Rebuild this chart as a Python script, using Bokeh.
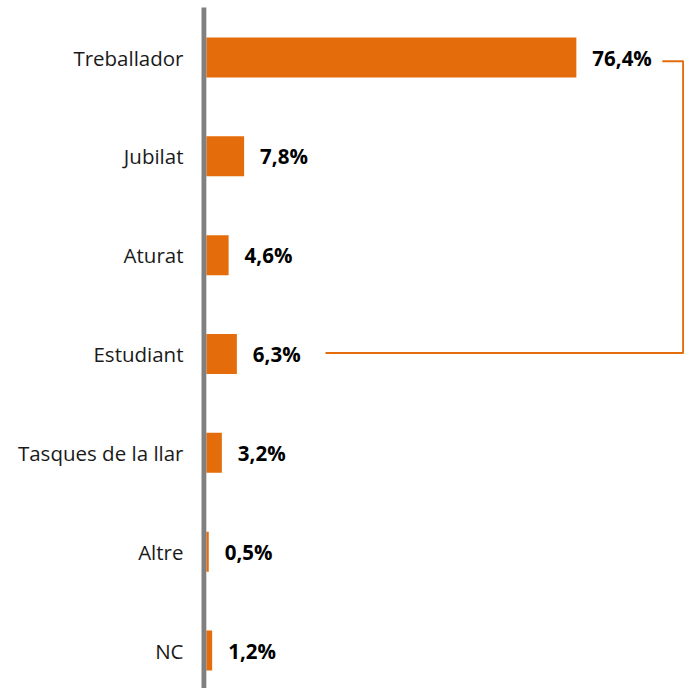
from bokeh.plotting import figure
from bokeh.models import Range1d, FixedTicker, ColumnDataSource
from bokeh.core.properties import value
from bokeh.embed import file_html
from bokeh.resources import INLINE

categories = ["Treballador", "Jubilat", "Aturat", "Estudiant", "Tasques de la llar", "Altre", "NC"]
percentages = [76.4, 7.8, 4.6, 6.3, 3.2, 0.5, 1.2]
value_labels = ["76,4%", "7,8%", "4,6%", "6,3%", "3,2%", "0,5%", "1,2%"]

n = len(categories)
ypos = [n - 1 - i for i in range(n)]

ORANGE = "#E46C0A"
GRAY = "#808080"
FONT = "Open Sans"

Y_TOP = 6.577
Y_BOT = -0.3845
X_START = -1.0
X_END = 98.73

src = ColumnDataSource(dict(y=ypos, v=percentages, lab=value_labels, cat=categories))

p = figure(width=684, height=688, output_backend="svg", toolbar_location=None,
           x_range=Range1d(X_START, X_END), y_range=Range1d(Y_BOT, Y_TOP),
           min_border_left=201, min_border_right=0, min_border_top=0, min_border_bottom=0)
p.outline_line_color = None
p.grid.visible = False
p.xaxis.visible = False
p.background_fill_color = "white"
p.border_fill_color = "white"

p.hbar(y="y", left=0, right="v", height=0.405, source=src, color=ORANGE, line_color=None)

p.text(x="v", y="y", text="lab", source=src, x_offset=16, text_baseline="middle",
       text_align="left", text_font=value(FONT), text_font_style="bold",
       text_font_size="20.5px", text_color="#000000")

# bracket connecting Treballador to Estudiant
top_i = categories.index("Treballador")
bot_i = categories.index("Estudiant")
x_top_start = percentages[top_i] + 17.75
x_bot_start = percentages[bot_i] + 18.3
x_right = 98.45
y_top = ypos[top_i] - 0.037
y_bot = ypos[bot_i] + 0.01
p.line([x_top_start, x_right, x_right, x_bot_start], [y_top, y_top, y_bot, y_bot],
       line_color=ORANGE, line_width=2)

# vertical gray axis line just left of zero
p.segment(x0=[-0.62], y0=[Y_BOT], x1=[-0.62], y1=[Y_TOP - 0.07], line_color=GRAY, line_width=6)

yax = p.yaxis[0]
yax.ticker = FixedTicker(ticks=ypos)
yax.major_label_overrides = {y: c for y, c in zip(ypos, categories)}
yax.axis_line_color = None
yax.major_tick_line_color = None
yax.minor_tick_line_color = None
yax.major_label_standoff = 12
yax.major_label_text_font = FONT
yax.major_label_text_font_size = "20.5px"
yax.major_label_text_color = "#1a1a1a"

open("out.html", "w").write(file_html(p, INLINE))
